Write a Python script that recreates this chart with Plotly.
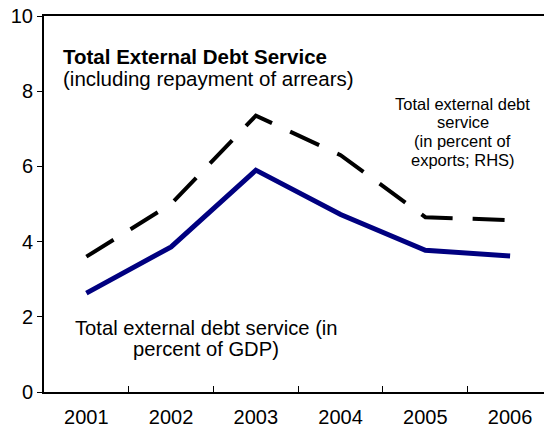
import plotly.graph_objects as go

# Years on the category axis
years = ["2001", "2002", "2003", "2004", "2005", "2006"]

# Total external debt service, percent of GDP
debt_gdp = [2.63, 3.86, 5.9, 4.72, 3.77, 3.62]

# Total external debt service, percent of exports (RHS series)
debt_exports = [3.6, 5.0, 7.35, 6.3, 4.65, 4.57]

# Left-axis ticks
y_ticks = [0, 2, 4, 6, 8, 10]

W, H = 544, 434
ML, MR, MT, MB = 44, 0, 16, 42
PW, PH = W - ML - MR, H - MT - MB

FONT = "Liberation Sans, Arial, sans-serif"


def px_x(x):
    return (x - ML) / PW


def px_y(y):
    return (H - MB - y) / PH


fig = go.Figure()

fig.add_trace(go.Scatter(
    x=years, y=debt_exports, mode="lines",
    line=dict(color="#000000", width=4, dash="32px,20px"),
    showlegend=False, hoverinfo="skip",
))
fig.add_trace(go.Scatter(
    x=years, y=debt_gdp, mode="lines",
    line=dict(color="#000080", width=5),
    showlegend=False, hoverinfo="skip",
))

annotations = []


def add_lines(lines, x, ys, size, anchor="center", bold=False):
    for text, y in zip(lines, ys):
        if bold:
            text = f"<b>{text}</b>"
        annotations.append(dict(
            text=text, xref="paper", yref="paper",
            x=px_x(x), y=px_y(y), xanchor=anchor, yanchor="middle",
            showarrow=False, font=dict(family=FONT, size=size, color="#000000"),
        ))


add_lines(["Total External Debt Service"], 61, [56], 20.5, anchor="left", bold=True)
add_lines(["(including repayment of arrears)"], 61, [78], 20.5, anchor="left")
add_lines(["Total external debt", "service", "(in percent of", "exports; RHS)"],
          462.5, [104, 122.5, 141, 159.5], 16.5)
add_lines(["Total external debt service (in", "percent of GDP)"],
          206, [327.5, 348.5], 20.2)

fig.update_layout(
    width=W, height=H,
    margin=dict(l=ML, r=MR, t=MT, b=MB),
    paper_bgcolor="white", plot_bgcolor="white",
    font=dict(family=FONT, size=20, color="#000000"),
    annotations=annotations,
    xaxis=dict(
        type="category", range=[-0.5, 5.4],
        showline=True, linecolor="#000000", linewidth=2, mirror=True,
        showgrid=False, zeroline=False,
        ticks="inside", ticklen=6, tickcolor="#000000", tickwidth=1,
        tickson="boundaries", ticklabelstandoff=6,
        tickfont=dict(family=FONT, size=20, color="#000000"),
    ),
    yaxis=dict(
        range=[0, 10], tickvals=y_ticks,
        showline=True, linecolor="#000000", linewidth=2,
        showgrid=False, zeroline=False,
        ticks="outside", ticklen=5, tickcolor="#000000", tickwidth=1,
        tickfont=dict(family=FONT, size=20, color="#000000"),
    ),
)

fig.write_html("out.html")
